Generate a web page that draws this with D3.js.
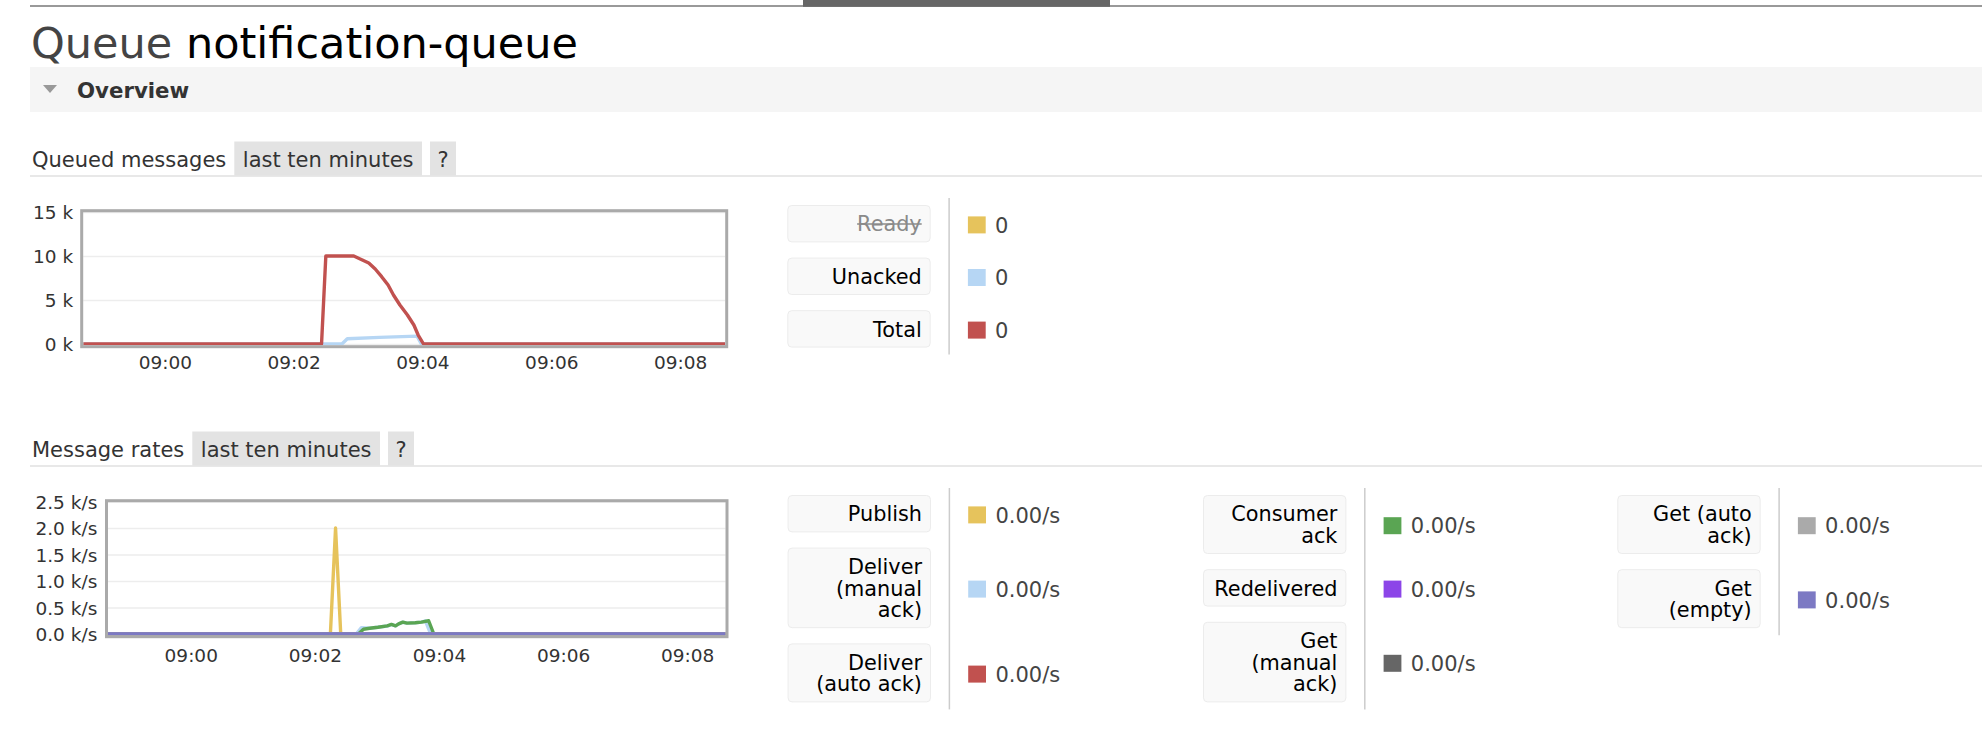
<!DOCTYPE html>
<html><head><meta charset="utf-8">
<script src="https://cdn.jsdelivr.net/npm/d3@7"></script>
<style>
html,body{margin:0;padding:0;background:#fff;}
svg{display:block;font-family:"DejaVu Sans",Verdana,sans-serif;}
</style></head><body>
<svg id="c" width="1982" height="732"></svg>
<script>
// ---------------- DATA ----------------
const titlePrefix = "Queue";
const queueName = "notification-queue";
const sectionTitle = "Overview";
const rangeLabel = "last ten minutes";

const timeTicks = ["09:00","09:02","09:04","09:06","09:08"];

const queuedTickValues = [0, 5000, 10000, 15000];
const queuedTickLabels = ["0 k", "5 k", "10 k", "15 k"];
const rateTickValues = [0, 500, 1000, 1500, 2000, 2500];
const rateTickLabels = ["0.0 k/s", "0.5 k/s", "1.0 k/s", "1.5 k/s", "2.0 k/s", "2.5 k/s"];

// Queued messages series  [time, messages]
const readySeries = [["08:58:44",0],["09:08:42",0]];
const unackedSeries = [["08:58:44",0],["09:02:45",0],["09:02:50",600],["09:03:20",750],["09:03:55",900],["09:03:59",0],["09:08:42",0]];
const totalSeries = [["08:58:44",0],["09:02:26",0],["09:02:30",10000],["09:02:56",10000],["09:03:04",9550],
  ["09:03:10",9200],["09:03:16",8520],["09:03:22",7650],["09:03:28",6700],["09:03:33",5570],["09:03:39",4430],
  ["09:03:46",3300],["09:03:52",2160],["09:03:56",1020],["09:04:01",0],["09:08:42",0]];

const queuedNames = ["Ready","Unacked","Total"];
const queuedColors = ["#e6c35c","#b6d6f4","#c1514f"];
const queuedValues = ["0","0","0"];
const queuedHidden = [true,false,false];

// Message rates series  [time, msg/s]
const publishSeries = [["08:58:40",0],["09:02:15",0],["09:02:20",2000],["09:02:25",0],["09:08:37",0]];
const deliverManualSeries = [["08:58:40",0],["09:02:40",0],["09:02:45",120],["09:02:53",110],["09:03:01",128],["09:03:10",150],
  ["09:03:14",178],["09:03:18",152],["09:03:21",190],["09:03:25",222],["09:03:29",205],["09:03:37",212],["09:03:43",225],
  ["09:03:47",245],["09:03:52",0],["09:08:37",0]];
const deliverAutoSeries = [["08:58:40",0],["09:08:37",0]];
const consumerAckSeries = [["08:58:40",0],["09:02:42",0],["09:02:47",90],["09:02:53",109],["09:03:01",128],["09:03:10",154],
  ["09:03:14",180],["09:03:18",154],["09:03:21",192],["09:03:25",224],["09:03:29",205],["09:03:37",212],["09:03:43",224],
  ["09:03:50",250],["09:03:55",0],["09:08:37",0]];
const redeliveredSeries = [["08:58:40",0],["09:08:37",0]];
const getManualSeries = [["08:58:40",0],["09:08:37",0]];
const getAutoSeries = [["08:58:40",0],["09:08:37",0]];
const getEmptySeries = [["08:58:40",0],["09:08:37",0]];

const rateNames = ["Publish","Deliver\n(manual\nack)","Deliver\n(auto ack)","Consumer\nack","Redelivered","Get\n(manual\nack)","Get (auto\nack)","Get\n(empty)"];
const rateColors = ["#e6c35c","#b6d6f4","#c1514f","#5aa553","#8c45e8","#666666","#aaaaaa","#7c79c3"];
const rateValues = ["0.00/s","0.00/s","0.00/s","0.00/s","0.00/s","0.00/s","0.00/s","0.00/s"];
const rateColumn = [0,0,0,1,1,1,2,2];

// ---------------- DRAWING ----------------
const FONT = '"DejaVu Sans", Verdana, sans-serif';
const svg = d3.select("#c");
const parseT = d3.timeParse("%H:%M:%S");
const parseTick = d3.timeParse("%H:%M");

// top navigation line + active tab
svg.append("line").attr("x1",30).attr("x2",1982).attr("y1",6).attr("y2",6).attr("stroke","#777").attr("stroke-width",1.5);
svg.append("rect").attr("x",803).attr("y",0).attr("width",307).attr("height",6.8).attr("fill","#666");

// title
const title = svg.append("text").attr("x",31).attr("y",58).style("font-size","43px");
title.append("tspan").attr("fill","#444").text(titlePrefix);
title.append("tspan").attr("fill","#000").text(" " + queueName);

// Overview bar
svg.append("rect").attr("x",30).attr("y",67).attr("width",1952).attr("height",45).attr("fill","#f5f5f5");
svg.append("path").attr("d","M43,85L57,85L50,93Z").attr("fill","#999");
svg.append("text").attr("x",77).attr("y",98).attr("fill","#333").style("font-size","21.3px").style("font-weight","bold").text(sectionTitle);

function sectionHeader(baseline, label) {
  const g = svg.append("g");
  const t = g.append("text").attr("x",32).attr("y",baseline).attr("fill","#333").style("font-size","21px").text(label);
  const w = t.node().getComputedTextLength();
  const top = baseline - 25.5, h = 34;
  const bx = 32 + w + 8;
  const lt = g.append("text").attr("x",bx+8.5).attr("y",baseline).attr("fill","#333").style("font-size","21px").text(rangeLabel);
  const lw = lt.node().getComputedTextLength();
  g.insert("rect","text:nth-of-type(2)").attr("x",bx).attr("y",top).attr("width",lw+17).attr("height",h).attr("fill","#e3e3e3");
  const qx = bx + lw + 17 + 8;
  g.append("rect").attr("x",qx).attr("y",top).attr("width",26).attr("height",h).attr("fill","#e3e3e3");
  g.append("text").attr("x",qx+13).attr("y",baseline).attr("text-anchor","middle").attr("fill","#333").style("font-size","21px").text("?");
  g.append("line").attr("x1",30).attr("x2",1982).attr("y1",top+h+0.5).attr("y2",top+h+0.5).attr("stroke","#e0e0e0").attr("stroke-width",1.5);
}
sectionHeader(167, "Queued messages");
sectionHeader(457, "Message rates");

let clipN = 0;
function drawChart(cfg) {
  const g = svg.append("g");
  const x = d3.scaleTime().domain(cfg.domain.map(parseT)).range([cfg.left, cfg.right]);
  const y = d3.scaleLinear().domain([0, cfg.yMax]).range([cfg.bottom, cfg.top]);
  // grid lines
  g.append("g").attr("transform",`translate(${cfg.left},0)`)
    .call(d3.axisLeft(y).tickValues(cfg.yTicks).tickSize(-(cfg.right-cfg.left)).tickFormat(""))
    .call(s => { s.select(".domain").remove(); s.selectAll("line").attr("stroke","#ededed").attr("stroke-width",1.5); });
  // y labels
  g.append("g").attr("transform",`translate(${cfg.left},0)`)
    .call(d3.axisLeft(y).tickValues(cfg.yTicks).tickSize(0).tickPadding(cfg.pad).tickFormat((d,i)=>cfg.yLabels[i]))
    .call(s => { s.select(".domain").remove();
      s.selectAll("text").attr("fill","#333").attr("dy","0.36em").style("font-size","18.5px").style("font-family",FONT); });
  // x labels
  g.append("g").attr("transform",`translate(0,${cfg.bottom})`)
    .call(d3.axisBottom(x).tickValues(timeTicks.map(parseTick).map(d => { const t = parseT("00:00:00"); t.setHours(d.getHours(), d.getMinutes()); return t; }))
      .tickSize(0).tickFormat(d3.timeFormat("%H:%M")))
    .call(s => { s.select(".domain").remove();
      s.selectAll("text").attr("fill","#333").attr("y",cfg.xLabelOffset).attr("dy",0).style("font-size","18.5px").style("font-family",FONT); });
  // series
  const id = "clip" + (clipN++);
  const f = cfg.frame;
  g.append("clipPath").attr("id",id).append("rect").attr("x",f[0]+1.5).attr("y",f[1]+1.5).attr("width",f[2]-3).attr("height",f[3]-3);
  const line = d3.line().x(d => x(parseT(d[0]))).y(d => y(d[1]));
  cfg.series.forEach(s => {
    if (s.hidden) return;
    g.append("path").attr("d", line(s.data)).attr("fill","none").attr("stroke",s.color)
      .attr("stroke-width",3.4).attr("stroke-linejoin","round").attr("clip-path",`url(#${id})`);
  });
  // frame
  g.append("rect").attr("x",f[0]).attr("y",f[1]).attr("width",f[2]).attr("height",f[3])
    .attr("fill","none").attr("stroke","#aaa").attr("stroke-width",3);
}

drawChart({
  domain: ["08:58:44","09:08:42"], left: 83.2, right: 725.2, top: 212, bottom: 344,
  yMax: 15000, yTicks: queuedTickValues, yLabels: queuedTickLabels, pad: 10, xLabelOffset: 25,
  frame: [81.7, 210.7, 645, 136],
  series: queuedNames.map((n,i) => ({ data: [readySeries, unackedSeries, totalSeries][i], color: queuedColors[i], hidden: queuedHidden[i] }))
});

const rateData = [publishSeries, deliverManualSeries, deliverAutoSeries, consumerAckSeries, redeliveredSeries, getManualSeries, getAutoSeries, getEmptySeries];
drawChart({
  domain: ["08:58:40","09:08:37"], left: 108, right: 725.5, top: 501.5, bottom: 634,
  yMax: 2500, yTicks: rateTickValues, yLabels: rateTickLabels, pad: 10.7, xLabelOffset: 28,
  frame: [106.5, 500.7, 620.5, 136],
  series: rateNames.map((n,i) => ({ data: rateData[i], color: rateColors[i] }))
});

function drawLegend(items, x0, top) {
  const g = svg.append("g");
  const boxW = 143.4, lh = 21.6, pad = 7.9, gap = 15.2;
  let yy = top;
  items.forEach(it => {
    const lines = it.label.split("\n");
    const h = pad*2 + lines.length*lh;
    g.append("rect").attr("x",x0+0.5).attr("y",yy+0.5).attr("width",boxW-1).attr("height",h-1).attr("rx",4)
      .attr("fill","#f9f9f9").attr("stroke","#ececec").attr("stroke-width",1);
    const cy = yy + h/2;
    const t = g.append("text").attr("text-anchor","end").style("font-size","20.8px").attr("fill", it.hidden ? "#8a8a8a" : "#000");
    lines.forEach((ln,i) => t.append("tspan").attr("x", x0+boxW-9).attr("y", cy + (i-(lines.length-1)/2)*lh + 7.6).text(ln));
    if (it.hidden) {
      const w = t.node().getComputedTextLength();
      g.append("line").attr("x1",x0+boxW-9-w).attr("x2",x0+boxW-9).attr("y1",cy+0.3).attr("y2",cy+0.3)
        .attr("stroke","#8a8a8a").attr("stroke-width",1.6);
    }
    g.append("rect").attr("x",x0+180.6).attr("y",cy-7.3).attr("width",17.8).attr("height",17).attr("fill",it.color);
    g.append("text").attr("x",x0+207.8).attr("y",cy+8.8).attr("fill","#444").style("font-size","21px").text(it.value);
    yy += h + gap;
  });
  g.append("line").attr("x1",x0+161.8).attr("x2",x0+161.8).attr("y1",top-7).attr("y2",yy-gap+7)
    .attr("stroke","#cccccc").attr("stroke-width",1.5);
}

drawLegend(queuedNames.map((n,i) => ({label:n, color:queuedColors[i], value:queuedValues[i], hidden:queuedHidden[i]})), 787.3, 205);

const colX = [787.6, 1203, 1617.3];
[0,1,2].forEach(c => {
  const items = rateNames.map((n,i) => ({label:n, color:rateColors[i], value:rateValues[i], col:rateColumn[i]})).filter(d => d.col === c);
  drawLegend(items, colX[c], 495);
});
</script>
</body></html>
